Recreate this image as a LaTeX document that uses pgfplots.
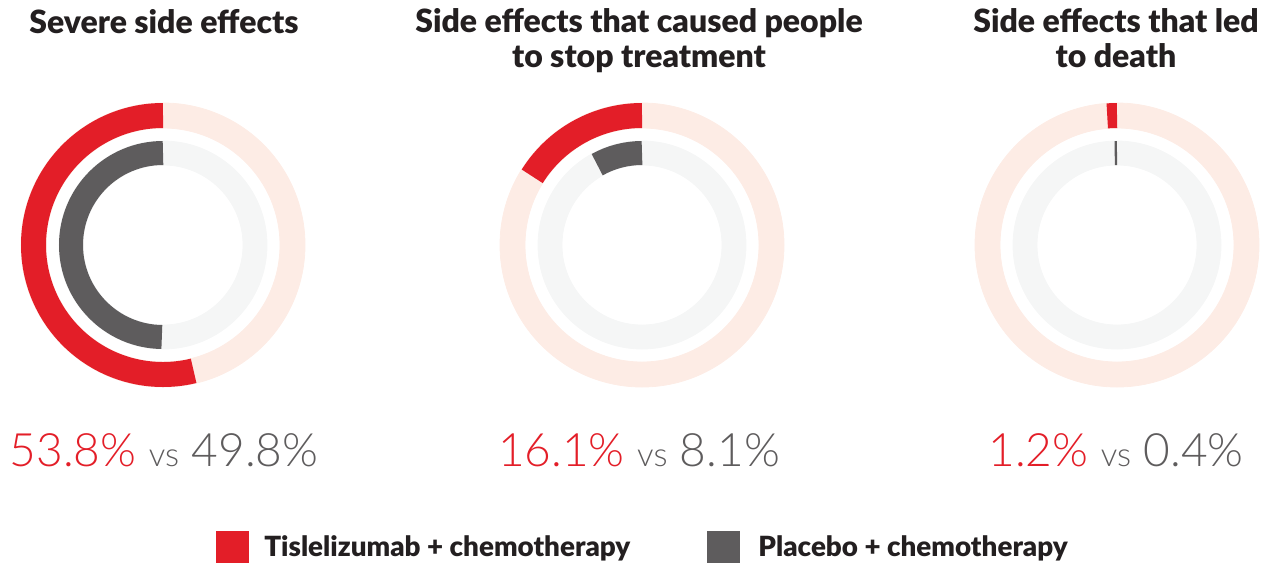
\documentclass[border=0pt]{standalone}
\usepackage{fontspec}
\usepackage{pgfplots}
\usepackage{pgfplotstable}
\pgfplotsset{compat=1.18}
\setmainfont{Lato}
\IfFontExistsTF{Lato Black}{\newfontfamily\headfont{Lato Black}}{\newfontfamily\headfont{Lato}[UprightFont=*-Bold]}
\IfFontExistsTF{Lato Light}{\newfontfamily\numfont{Lato Light}}{\newfontfamily\numfont{Lato}}

\definecolor{tisred}{RGB}{227,30,40}
\definecolor{placgray}{RGB}{94,92,93}
\definecolor{pinkbg}{RGB}{253,236,229}
\definecolor{graybg}{RGB}{245,246,246}
\definecolor{ink}{RGB}{35,31,32}

\pgfdeclareplotmark{empty}{}

% centre of each donut (px) and share of patients (%)
\pgfplotstableread{
x    y   v
163  245 53.8
642  245 16.1
1117 245 1.2
}\tisl
\pgfplotstableread{
x    y   v
163  245 49.8
642  245 8.1
1117 245 0.4
}\plac

\begin{document}
\begin{tikzpicture}
\begin{axis}[
  width=631.5pt, height=282pt, scale only axis,
  xmin=0, xmax=1263, ymin=0, ymax=564, y dir=reverse,
  hide axis, clip=false,
]
% outer ring: tislelizumab
\addplot[scatter, only marks, mark=empty,
  visualization depends on={\thisrow{v}\as\val},
  scatter/@pre marker code/.code={
    \fill[pinkbg, even odd rule] (0,0) circle[radius=71pt] (0,0) circle[radius=58.5pt];
    \draw[line width=12.5pt, tisred] (0,64.75pt) arc[start angle=90, end angle={90+3.6*\val}, radius=64.75pt];
  },
  scatter/@post marker code/.code={}]
  table[x=x, y=y] {\tisl};
% inner ring: placebo
\addplot[scatter, only marks, mark=empty,
  visualization depends on={\thisrow{v}\as\val},
  scatter/@pre marker code/.code={
    \fill[graybg, even odd rule] (0,0) circle[radius=52pt] (0,0) circle[radius=40pt];
    \draw[line width=12pt, placgray] (0,46pt) arc[start angle=90, end angle={90+3.6*\val}, radius=46pt];
  },
  scatter/@post marker code/.code={}]
  table[x=x, y=y] {\plac};

% titles
\node[anchor=base, text=ink, font=\headfont\fontsize{16}{17.5}\selectfont] at (axis cs:164,33) {Severe side effects};
\node[anchor=base, text=ink, align=center, font=\headfont\fontsize{16}{17.5}\selectfont] at (axis cs:639,67) {Side effects that caused people\\to stop treatment};
\node[anchor=base, text=ink, align=center, font=\headfont\fontsize{16}{17.5}\selectfont] at (axis cs:1116,67) {Side effects that led\\to death};

% values
\node[anchor=base, font=\numfont\fontsize{23}{26}\selectfont] at (axis cs:164,466)
  {\textcolor{tisred}{53.8\%} \textcolor{placgray}{\fontsize{16.5}{18}\selectfont vs} \textcolor{placgray}{49.8\%}};
\node[anchor=base, font=\numfont\fontsize{23}{26}\selectfont] at (axis cs:639,466)
  {\textcolor{tisred}{16.1\%} \textcolor{placgray}{\fontsize{16.5}{18}\selectfont vs} \textcolor{placgray}{8.1\%}};
\node[anchor=base, font=\numfont\fontsize{23}{26}\selectfont] at (axis cs:1116,466)
  {\textcolor{tisred}{1.2\%} \textcolor{placgray}{\fontsize{16.5}{18}\selectfont vs} \textcolor{placgray}{0.4\%}};

% legend
\fill[tisred] (axis cs:216,531) rectangle (axis cs:249,563);
\fill[placgray] (axis cs:707,531) rectangle (axis cs:740,563);
\node[anchor=base west, inner sep=0pt, text=ink, font=\headfont\fontsize{13.9}{15}\selectfont] at (axis cs:264,556) {Tislelizumab + chemotherapy};
\node[anchor=base west, inner sep=0pt, text=ink, font=\headfont\fontsize{13.9}{15}\selectfont] at (axis cs:758,556) {Placebo + chemotherapy};
\end{axis}
\pgfresetboundingbox
\path (current axis.south west) rectangle (current axis.north east);
\end{tikzpicture}
\end{document}
